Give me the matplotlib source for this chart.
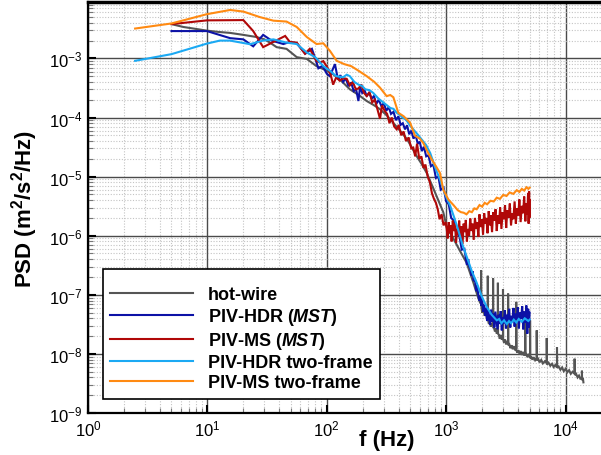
import numpy as np
import matplotlib
matplotlib.use("Agg")
import matplotlib.pyplot as plt
from matplotlib.ticker import LogLocator, NullFormatter
from matplotlib.font_manager import FontProperties
from matplotlib.lines import Line2D

plt.rcParams['font.family'] = ['Liberation Sans', 'DejaVu Sans']
plt.rcParams['mathtext.fontset'] = 'custom'
plt.rcParams['mathtext.rm'] = 'Liberation Sans'
plt.rcParams['mathtext.it'] = 'Liberation Sans:italic:bold'
plt.rcParams['mathtext.bf'] = 'Liberation Sans:bold'

# ---------------- data ----------------
series_labels = ["hot-wire", r"PIV-HDR ($\mathit{MST}$)", r"PIV-MS ($\mathit{MST}$)",
                 "PIV-HDR two-frame", "PIV-MS two-frame"]
series_colors = ["#555555", "#0c12a6", "#b00808", "#1ba9f3", "#ff8a12"]

hw_f = [5.0, 6.3, 8.0, 9.9, 12.5, 15.5, 20, 25.8, 30, 33.4, 38, 46, 56, 68, 82, 100, 113, 135, 156, 185,
        216, 250, 279, 320, 361, 410, 470, 520, 567, 620, 687, 800, 945, 1010, 1150, 1300, 1480, 1600,
        1690, 1780, 1850, 1920,
        1960, 1960, 1966, 2000, 2040, 2100, 2150, 2190,
        2230, 2230, 2237, 2280, 2320, 2360, 2420,
        2470, 2470, 2477, 2520, 2560, 2600, 2650,
        2710, 2710, 2718, 2760, 2810, 2860, 2920,
        2990, 2990, 2998, 3050, 3110, 3170, 3230,
        3300, 3300, 3310, 3380, 3450, 3530, 3610, 3700, 3780,
        3860, 3860, 3872, 3940, 4030, 4120, 4210, 4300, 4400, 4490,
        4590, 4590, 4604, 4700, 4800, 4920,
        5040, 5040, 5055, 5150, 5270, 5400, 5560,
        5730, 5730, 5748, 5900, 6050, 6250, 6450, 6700,
        6950, 6950, 6972, 7200, 7450, 7700, 7950, 8200,
        8470, 8470, 8496, 8750, 9050, 9350, 9650, 10000, 10350, 10700, 11050, 11450,
        11900, 11900, 11940, 12250, 12600, 12950, 13300,
        13700, 13700, 13740, 14000, 14100]
hw_psd = [3.8e-3, 3.4e-3, 3.15e-3, 2.95e-3, 2.8e-3, 2.7e-3, 2.5e-3, 2.3e-3, 2.1e-3, 1.85e-3, 1.55e-3,
          1.45e-3, 1.05e-3, 9.8e-4, 7.4e-4, 6.2e-4, 5.4e-4, 4.0e-4, 3.0e-4, 2.4e-4, 1.9e-4, 1.6e-4,
          1.38e-4, 1.07e-4, 8.1e-5, 6.0e-5, 4.3e-5, 3.0e-5, 2.2e-5, 1.66e-5, 1.15e-5, 5.6e-6, 2.5e-6,
          1.4e-6, 8.9e-7, 5.6e-7, 3.5e-7, 2.2e-7, 1.6e-7, 1.15e-7, 9.0e-8, 7.4e-8,
          7.0e-8, 2.6e-7, 6.6e-8, 5.0e-8, 6.0e-8, 4.4e-8, 5.2e-8, 3.9e-8,
          4.2e-8, 2.1e-7, 3.8e-8, 3.2e-8, 3.7e-8, 2.9e-8, 3.3e-8,
          3.0e-8, 1.9e-7, 2.8e-8, 2.7e-8, 2.4e-8, 2.7e-8, 2.2e-8,
          2.4e-8, 1.6e-7, 2.2e-8, 2.1e-8, 1.8e-8, 2.1e-8, 1.75e-8,
          1.95e-8, 1.25e-7, 1.75e-8, 1.55e-8, 1.75e-8, 1.45e-8, 1.65e-8,
          1.5e-8, 1.05e-7, 1.4e-8, 1.45e-8, 1.25e-8, 1.4e-8, 1.2e-8, 1.35e-8, 1.15e-8,
          1.25e-8, 7.6e-8, 1.15e-8, 1.05e-8, 1.15e-8, 9.8e-9, 1.12e-8, 9.6e-9, 1.08e-8, 9.4e-9,
          1.02e-8, 4.6e-8, 9.4e-9, 9.8e-9, 8.8e-9, 9.6e-9,
          9.0e-9, 3.7e-8, 8.4e-9, 9.0e-9, 8.0e-9, 8.8e-9, 7.8e-9,
          8.4e-9, 2.5e-8, 7.8e-9, 8.2e-9, 7.2e-9, 7.9e-9, 6.9e-9, 7.5e-9,
          7.0e-9, 1.85e-8, 6.6e-9, 7.1e-9, 6.3e-9, 6.8e-9, 6.0e-9, 6.5e-9,
          6.0e-9, 1.3e-8, 5.8e-9, 6.1e-9, 5.4e-9, 5.9e-9, 5.1e-9, 5.6e-9, 4.9e-9, 5.3e-9, 4.6e-9, 5.0e-9,
          4.7e-9, 8.3e-9, 4.4e-9, 4.6e-9, 4.0e-9, 4.3e-9, 3.8e-9,
          3.9e-9, 5.2e-9, 3.6e-9, 3.7e-9, 3.3e-9]

hdr_mst_f = [5.0, 9.9, 15.5, 20, 24.2, 29.3, 34.5, 43.3, 49, 56, 62, 66, 75, 80, 85, 92, 100, 106, 112,
             117, 124, 130, 137, 144, 152, 160, 168, 176, 184, 190, 198, 207, 216, 226, 238, 248, 260,
             272, 287, 300, 315, 330, 345, 362, 380, 398, 415, 433, 452, 470, 490, 510, 532, 555, 578,
             600, 625, 650, 680, 710, 745, 780, 820, 860, 900, 950, 1000, 1050, 1100, 1160, 1220, 1290,
             1350, 1420,
             1490, 1530, 1560, 1600, 1630, 1665, 1700, 1740, 1780, 1815, 1850, 1890, 1930, 1965, 2000,
             2040, 2080, 2120, 2160, 2200, 2245, 2290, 2335, 2380, 2430, 2480, 2530, 2580, 2635, 2690,
             2745, 2800, 2860, 2920, 2980, 3040, 3100, 3165, 3230, 3300, 3370, 3440, 3510, 3580, 3660,
             3740, 3820, 3900, 3980, 4060, 4150, 4240, 4330, 4420, 4510, 4600, 4690, 4780, 4860, 4930,
             5000]
hdr_mst_psd = [2.9e-3, 2.9e-3, 2.2e-3, 2.1e-3, 1.6e-3, 2.5e-3, 2.0e-3, 1.75e-3, 1.9e-3, 1.8e-3, 1.4e-3,
               1.2e-3, 1.45e-3, 1.0e-3, 6.8e-4, 7.5e-4, 5.5e-4, 5.0e-4, 6.5e-4, 8.0e-4, 4.4e-4, 5.2e-4,
               4.0e-4, 4.6e-4, 3.4e-4, 3.9e-4, 2.8e-4, 3.0e-4, 1.9e-4, 3.3e-4, 2.6e-4, 2.9e-4, 2.3e-4,
               2.6e-4, 2.1e-4, 2.3e-4, 1.7e-4, 2.0e-4, 1.55e-4, 1.75e-4, 1.3e-4, 1.5e-4, 1.15e-4,
               1.25e-4, 9.0e-5, 1.05e-4, 7.5e-5, 8.0e-5, 6.3e-5, 7.4e-5, 5.2e-5, 6.0e-5, 4.4e-5, 5.0e-5,
               3.6e-5, 3.9e-5, 2.7e-5, 3.2e-5, 2.2e-5, 2.3e-5, 1.5e-5, 1.6e-5, 9.5e-6, 1.0e-5, 6.0e-6,
               6.5e-6, 3.8e-6, 3.4e-6, 2.0e-6, 1.8e-6, 1.1e-6, 1.0e-6, 5.8e-7, 6.0e-7,
               3.2e-7, 4.0e-7, 3.0e-7, 2.7e-7, 2.1e-7, 2.5e-7, 1.7e-7, 1.9e-7, 1.15e-7, 1.45e-7, 1.05e-7,
               8.0e-8, 9.5e-8, 6.5e-8, 8.5e-8, 5.2e-8, 6.8e-8, 4.4e-8, 6.0e-8, 3.6e-8, 5.4e-8, 4.0e-8,
               3.1e-8, 5.6e-8, 3.5e-8, 4.8e-8, 2.8e-8, 5.2e-8, 3.6e-8, 2.6e-8, 4.6e-8, 3.2e-8, 5.3e-8,
               2.5e-8, 4.2e-8, 3.3e-8, 5.5e-8, 2.7e-8, 4.6e-8, 3.5e-8, 5.8e-8, 2.8e-8, 4.4e-8, 3.6e-8,
               6.0e-8, 2.9e-8, 4.8e-8, 3.8e-8, 6.2e-8, 2.7e-8, 5.0e-8, 3.9e-8, 6.4e-8, 2.6e-8, 5.2e-8,
               3.4e-8, 6.6e-8, 2.2e-8, 5.8e-8, 2.8e-8, 5.0e-8]

ms_mst_f = [5.0, 9.9, 20, 24.2, 29.3, 35.7, 44.8, 49, 56, 65.6, 72, 82, 88, 93.5, 103, 108, 113, 120,
            128, 138, 147, 156, 165, 175, 184, 195, 205, 216, 228, 240, 252, 265, 279, 290, 305, 320,
            335, 350, 367, 385, 400, 420, 440, 460, 485, 510, 530, 550, 570, 595, 620, 645, 670, 700,
            730, 760, 790, 820, 850, 880, 915, 950, 990,
            1010, 1030, 1050, 1070, 1090, 1110, 1135, 1160, 1185, 1210, 1235, 1260, 1285, 1310, 1340,
            1370, 1400, 1430, 1460, 1490, 1520, 1555, 1590, 1625, 1660, 1700, 1740, 1780, 1820, 1860,
            1900, 1945, 1990, 2035, 2080, 2125, 2170, 2220, 2270, 2320, 2370, 2420, 2475, 2530, 2590,
            2650, 2710, 2770, 2830, 2900, 2970, 3040, 3110, 3180, 3250, 3330, 3410, 3490, 3570, 3650,
            3740, 3830, 3920, 4010, 4100, 4200, 4300, 4400, 4500, 4600, 4700, 4780, 4850, 4900, 4950,
            4980, 5000]
ms_mst_psd = [3.8e-3, 4.4e-3, 4.45e-3, 2.9e-3, 1.55e-3, 1.9e-3, 2.4e-3, 1.9e-3, 1.85e-3, 1.2e-3,
              1.45e-3, 9.1e-4, 8.5e-4, 9.0e-4, 6.6e-4, 5.2e-4, 3.6e-4, 4.8e-4, 4.2e-4, 4.6e-4, 4.5e-4,
              3.5e-4, 4.0e-4, 3.0e-4, 3.1e-4, 3.6e-4, 2.6e-4, 2.3e-4, 2.7e-4, 1.8e-4, 2.0e-4, 1.4e-4,
              9.5e-5, 1.6e-4, 1.3e-4, 1.15e-4, 8.0e-5, 1.0e-4, 7.0e-5, 6.3e-5, 7.5e-5, 5.0e-5, 5.8e-5,
              4.0e-5, 4.6e-5, 3.0e-5, 3.1e-5, 2.2e-5, 3.6e-5, 2.0e-5, 2.2e-5, 1.4e-5, 1.6e-5, 1.0e-5,
              8.0e-6, 5.2e-6, 4.2e-6, 3.6e-6, 2.8e-6, 1.9e-6, 2.3e-6, 1.5e-6, 1.7e-6,
              1.3e-6, 9.0e-7, 1.7e-6, 1.1e-6, 1.5e-6, 8.0e-7, 1.8e-6, 1.2e-6, 1.6e-6, 7.6e-7, 1.3e-6,
              1.05e-6, 1.8e-6, 9.0e-7, 1.45e-6, 7.2e-7, 1.6e-6, 1.15e-6, 1.85e-6, 8.0e-7, 1.3e-6,
              1.0e-6, 1.95e-6, 1.2e-6, 1.6e-6, 8.5e-7, 2.0e-6, 1.3e-6, 1.7e-6, 9.5e-7, 2.3e-6, 1.4e-6,
              1.9e-6, 1.05e-6, 2.4e-6, 1.6e-6, 2.0e-6, 1.1e-6, 2.6e-6, 1.5e-6, 2.2e-6, 1.15e-6, 2.5e-6,
              1.8e-6, 2.8e-6, 1.2e-6, 2.2e-6, 1.6e-6, 3.0e-6, 1.3e-6, 2.5e-6, 1.9e-6, 3.3e-6, 1.35e-6,
              2.7e-6, 2.0e-6, 3.5e-6, 1.5e-6, 2.4e-6, 1.9e-6, 3.8e-6, 1.6e-6, 2.9e-6, 2.2e-6, 4.1e-6,
              1.7e-6, 3.2e-6, 2.4e-6, 4.6e-6, 1.75e-6, 3.5e-6, 2.3e-6, 5.3e-6, 1.6e-6, 5.6e-6, 2.0e-6,
              4.0e-6]

hdr_2f_f = [2.48, 5.0, 9.9, 12.7, 15.5, 22.7, 29.3, 35.7, 46, 56, 68, 80, 93.5, 106, 120, 137, 147, 156,
            170, 184, 198, 210, 228, 245, 270, 297, 320, 340, 362, 385, 410, 430, 450, 470, 500, 530,
            575, 620, 680, 735, 800, 887, 980, 1080, 1170, 1260, 1370, 1480, 1640, 1800, 1980, 2180,
            2400, 2650, 2780, 2900, 3050, 3220, 3360, 3500, 3680, 3860, 4050, 4300, 4550, 4870, 5000]
hdr_2f_psd = [9.1e-4, 1.18e-3, 1.78e-3, 2.0e-3, 2.0e-3, 1.74e-3, 2.0e-3, 2.1e-3, 1.85e-3, 1.75e-3,
              1.26e-3, 1.05e-3, 7.4e-4, 6.2e-4, 5.0e-4, 4.8e-4, 5.3e-4, 5.0e-4, 4.0e-4, 3.6e-4, 3.4e-4,
              3.0e-4, 2.9e-4, 2.6e-4, 2.1e-4, 1.8e-4, 1.6e-4, 1.45e-4, 1.4e-4, 1.2e-4, 1.1e-4, 1.0e-4,
              9.5e-5, 8.7e-5, 7.2e-5, 6.3e-5, 5.2e-5, 4.3e-5, 3.4e-5, 2.5e-5, 1.5e-5, 8.9e-6, 5.0e-6,
              3.2e-6, 2.0e-6, 1.26e-6, 7.0e-7, 4.5e-7, 2.5e-7, 1.6e-7, 9.5e-8, 6.3e-8, 4.6e-8, 3.7e-8,
              3.9e-8, 3.3e-8, 3.7e-8, 3.2e-8, 3.6e-8, 3.3e-8, 3.8e-8, 3.4e-8, 3.9e-8, 3.5e-8, 4.0e-8,
              3.6e-8, 3.8e-8]

ms_2f_f = [2.48, 5.0, 9.9, 15.5, 20, 27.5, 35.7, 46, 56, 68, 82, 93.5, 106, 121, 140, 160, 184, 216,
           250, 279, 317, 340, 361, 397, 440, 498, 548, 600, 643, 700, 756, 820, 887, 945, 1042, 1150,
           1250, 1330, 1400, 1480, 1560, 1640, 1720, 1800, 1900, 2000, 2100, 2200, 2350, 2500, 2650,
           2820, 3000, 3200, 3400, 3650, 3900, 4100, 4300, 4500, 4700, 4880, 5000]
ms_2f_psd = [3.2e-3, 3.9e-3, 5.6e-3, 6.6e-3, 6.2e-3, 5.0e-3, 4.35e-3, 4.2e-3, 3.4e-3, 2.3e-3, 1.75e-3,
             1.8e-3, 1.35e-3, 9.1e-4, 8.0e-4, 7.4e-4, 6.2e-4, 5.0e-4, 4.0e-4, 3.2e-4, 2.3e-4, 2.4e-4,
             2.2e-4, 1.2e-4, 1.05e-4, 8.2e-5, 4.9e-5, 4.4e-5, 3.7e-5, 2.6e-5, 1.95e-5, 1.5e-5, 1.15e-5,
             6.0e-6, 4.1e-6, 3.3e-6, 2.7e-6, 2.5e-6, 2.45e-6, 2.3e-6, 2.6e-6, 2.5e-6, 2.9e-6, 2.8e-6,
             3.3e-6, 3.1e-6, 3.6e-6, 3.4e-6, 3.9e-6, 3.8e-6, 4.4e-6, 4.2e-6, 4.9e-6, 4.7e-6, 5.4e-6,
             5.1e-6, 5.9e-6, 5.5e-6, 6.2e-6, 5.8e-6, 6.6e-6, 6.2e-6, 6.5e-6]

series_f = [hw_f, hdr_mst_f, ms_mst_f, hdr_2f_f, ms_2f_f]
series_psd = [hw_psd, hdr_mst_psd, ms_mst_psd, hdr_2f_psd, ms_2f_psd]
draw_order = [0, 2, 1, 3, 4]

x_ticks = [1e0, 1e1, 1e2, 1e3, 1e4]
y_ticks = [1e-9, 1e-8, 1e-7, 1e-6, 1e-5, 1e-4, 1e-3]

# ---------------- figure ----------------
W, H = 601, 456
fig = plt.figure(figsize=(W / 100, H / 100), dpi=100)
ax_l, ax_r, ax_t, ax_b = 88, 601, 3, 414
ax = fig.add_axes([ax_l / W, (H - ax_b) / H, (ax_r - ax_l) / W, (ax_b - ax_t) / H])
ax.set_xscale('log')
ax.set_yscale('log')

for i in draw_order:
    assert len(series_f[i]) == len(series_psd[i]), i
    ax.plot(series_f[i], series_psd[i], color=series_colors[i], lw=1.5, zorder=3 + i * 0.1,
            solid_joinstyle='miter')

ax.set_xlim(1, 10 ** ((ax_r - ax_l) / 119.4))
ax.set_ylim(1e-9, 10 ** (-9 + (ax_b - ax_t) / 59.1))

ax.xaxis.set_major_locator(LogLocator(base=10, numticks=30))
ax.yaxis.set_major_locator(LogLocator(base=10, numticks=30))
ax.xaxis.set_minor_locator(LogLocator(base=10, subs=np.arange(2, 10), numticks=100))
ax.yaxis.set_minor_locator(LogLocator(base=10, subs=np.arange(2, 10), numticks=100))
ax.xaxis.set_minor_formatter(NullFormatter())
ax.yaxis.set_minor_formatter(NullFormatter())
ax.set_xticks(x_ticks)
ax.set_yticks(y_ticks)

ax.grid(which='major', color='#4a4a4a', lw=1.0, ls='-', zorder=1)
ax.grid(which='minor', color='#c4c4c4', lw=0.8, ls=(0, (1, 1.5)), zorder=0.5)
ax.set_axisbelow(True)

ax.tick_params(which='major', direction='in', length=6, width=1.5, labelsize=12, colors='black',
               pad=4)
ax.tick_params(which='minor', direction='in', length=3.5, width=0.8, color='#777777')
ax.tick_params(top=False, right=False)

ax.spines['right'].set_visible(False)
ax.spines['top'].set_linewidth(2.5)
ax.spines['left'].set_linewidth(1.6)
ax.spines['bottom'].set_linewidth(1.6)

ax.set_xlabel('f (Hz)', fontsize=16, fontweight='bold')
ax.set_ylabel(r'PSD (m$^\mathbf{2}$/s$^\mathbf{2}$/Hz)', fontsize=16, fontweight='bold')
ax.xaxis.set_label_coords((387 - ax_l) / (ax_r - ax_l), -0.04)
ax.yaxis.set_label_coords((40 - ax_l) / (ax_r - ax_l), 0.5)

handles = [Line2D([], [], color=c, lw=1.5) for c in series_colors]
leg = ax.legend(handles, series_labels, loc='lower left',
                bbox_to_anchor=((103 - ax_l) / (ax_r - ax_l), (ax_b - 399.5) / (ax_b - ax_t)),
                borderaxespad=0, prop=FontProperties(family='Liberation Sans', weight='bold', size=13),
                handlelength=4.6, handletextpad=0.8, labelspacing=0.17, borderpad=0.4,
                fancybox=False, framealpha=1, edgecolor='black', title=' ', title_fontsize=6)
leg.get_frame().set_linewidth(1.2)
leg.set_zorder(10)

fig.savefig('out.png', dpi=100)
